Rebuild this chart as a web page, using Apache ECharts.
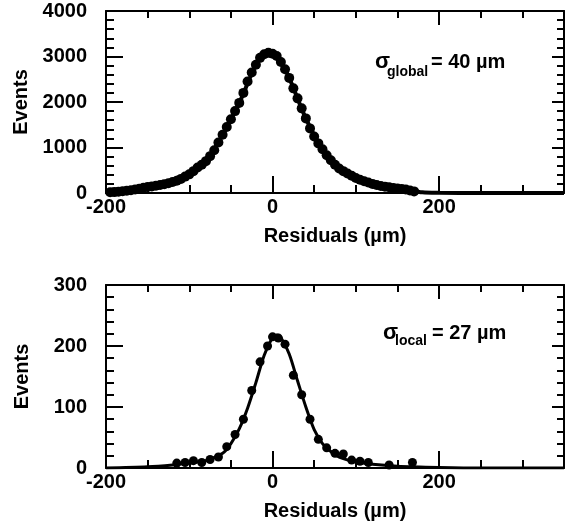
<!DOCTYPE html>
<html>
<head>
<meta charset="utf-8">
<script src="https://cdn.jsdelivr.net/npm/echarts@6/dist/echarts.min.js"></script>
<style>html,body{margin:0;padding:0;background:#fff;}#c{width:566px;height:527px;}</style>
</head>
<body>
<div id="c"></div>
<script>
// ---- Data ----
const xTickLabels = [-200, 0, 200];
// Top panel: global residuals (dots)
const globalX = [-195,-190,-185,-180,-175,-170,-165,-160,-155,-150,-145,-140,-135,-130,-125,-120,-115,-110,-105,-100,-95,-90,-85,-80,-75,-70,-65,-60,-55,-50,-45,-40,-35,-30,-25,-20,-15,-10,-5,0,5,10,15,20,25,30,35,40,45,50,55,60,65,70,75,80,85,90,95,100,105,110,115,120,125,130,135,140,145,150,155,160,165,170];
const globalY = [15,20,30,40,50,60,75,95,115,130,145,160,175,195,215,240,270,310,360,410,480,560,620,700,810,940,1110,1280,1450,1620,1800,1980,2200,2450,2650,2820,2970,3050,3080,3060,3010,2880,2720,2530,2300,2080,1860,1640,1420,1240,1090,960,830,720,620,540,480,430,380,330,290,260,230,200,175,155,140,125,110,100,90,75,55,35];
// Top panel: fit curve
const fitGlobalX = [-200,-180,-160,-140,-120,-100,-80,-60,-40,-20,-10,-5,0,10,20,40,60,80,100,120,140,160,180,200,250,300,350];
const fitGlobalY = [8,35,85,155,235,410,700,1280,1980,2820,3050,3080,3060,2880,2530,1640,960,540,330,200,125,75,15,5,2,0,0];
// Bottom panel: local residuals (dots)
const localX = [-115,-105,-95,-85,-75,-65,-55,-45,-35,-25,-15,-6,0,7,15,25,35,45,55,65,75,85,95,105,115,140,168];
const localY = [8,9,12,9,14,18,35,55,80,127,174,200,215,213,203,152,120,80,47,33,24,23,13,11,9,5,9];
// Bottom panel: fit curve
const fitLocalX = [-200,-150,-120,-100,-80,-60,-50,-40,-30,-20,-10,0,5,10,20,30,40,50,60,70,80,100,120,150,200,250,300,350];
const fitLocalY = [0,2,5,8,12,24,40,64,98,140,185,214,218,214,187,143,100,63,40,27,18,10,6,3,1,0,0,0];

const xRange = [-200, 350];
const yRangeTop = [0, 4000];
const yRangeBottom = [0, 300];

const FONT = '"Liberation Sans", Arial, Helvetica, sans-serif';
const zip = (a, b) => a.map((v, i) => [v, b[i]]);

function xAxes(g) {
  const base = {gridIndex: g, type: 'value', min: xRange[0], max: xRange[1], splitLine: {show: false}, minorTick: {show: false}};
  return [
    Object.assign({}, base, {
      position: 'bottom', interval: 200,
      axisLine: {show: true, onZero: false, lineStyle: {color: '#000', width: 2}},
      axisTick: {show: true, inside: true, length: 17, lineStyle: {color: '#000', width: 2}},
      axisLabel: {show: true, showMaxLabel: false, color: '#000', fontSize: 20, fontWeight: 'bold', fontFamily: FONT, margin: 4,
        formatter: v => xTickLabels.indexOf(v) >= 0 ? String(v) : ''},
      name: 'Residuals (µm)', nameLocation: 'middle', nameGap: 33,
      nameTextStyle: {color: '#000', fontSize: 20, fontWeight: 'bold', fontFamily: FONT}
    }),
    Object.assign({}, base, {
      position: 'bottom', interval: 50,
      axisLine: {show: false, onZero: false},
      axisTick: {show: true, inside: true, length: 8, lineStyle: {color: '#000', width: 2}},
      axisLabel: {show: false}
    }),
    Object.assign({}, base, {
      position: 'top', interval: 200,
      axisLine: {show: true, onZero: false, lineStyle: {color: '#000', width: 2}},
      axisTick: {show: true, inside: true, length: 14, lineStyle: {color: '#000', width: 2}},
      axisLabel: {show: false}
    }),
    Object.assign({}, base, {
      position: 'top', interval: 50,
      axisLine: {show: false, onZero: false},
      axisTick: {show: true, inside: true, length: 7, lineStyle: {color: '#000', width: 2}},
      axisLabel: {show: false}
    })
  ];
}

function yAxes(g, range, interval) {
  const base = {gridIndex: g, type: 'value', min: range[0], max: range[1], interval: interval, splitLine: {show: false}};
  return [
    Object.assign({}, base, {
      position: 'left',
      axisLine: {show: true, onZero: false, lineStyle: {color: '#000', width: 2}},
      axisTick: {show: true, inside: true, length: 17, lineStyle: {color: '#000', width: 2}},
      minorTick: {show: true, splitNumber: 5, length: 8, lineStyle: {color: '#000', width: 2}},
      axisLabel: {show: true, color: '#000', fontSize: 20, fontWeight: 'bold', fontFamily: FONT, margin: 19,
        formatter: v => String(v)},
      name: 'Events', nameLocation: 'middle', nameGap: 74,
      nameTextStyle: {color: '#000', fontSize: 20, fontWeight: 'bold', fontFamily: FONT}
    }),
    Object.assign({}, base, {
      position: 'right',
      axisLine: {show: true, onZero: false, lineStyle: {color: '#000', width: 2}},
      axisTick: {show: true, inside: true, length: 12, lineStyle: {color: '#000', width: 2}},
      minorTick: {show: true, splitNumber: 5, length: 7, lineStyle: {color: '#000', width: 2}},
      axisLabel: {show: false}
    })
  ];
}

function txt(x, y, text, size, weight) {
  return {type: 'text', x: x, y: y, silent: true,
    style: {text: text, fill: '#000', font: (weight || 'bold') + ' ' + size + 'px ' + FONT, textAlign: 'left', textVerticalAlign: 'middle'}};
}

const chart = echarts.init(document.getElementById('c'), null, {renderer: 'canvas'});
chart.setOption({
  backgroundColor: '#fff',
  animation: false,
  grid: [
    {left: 106, right: 2, top: 11, height: 182},
    {left: 106, right: 2, top: 285, height: 183}
  ],
  xAxis: xAxes(0).concat(xAxes(1)),
  yAxis: yAxes(0, yRangeTop, 1000).concat(yAxes(1, yRangeBottom, 100)),
  series: [
    {type: 'line', xAxisIndex: 0, yAxisIndex: 0, data: zip(fitGlobalX, fitGlobalY), smooth: 0.3, symbol: 'none',
      lineStyle: {color: '#000', width: 4}, clip: true},
    {type: 'scatter', xAxisIndex: 0, yAxisIndex: 0, data: zip(globalX, globalY), symbolSize: 10,
      itemStyle: {color: '#000', opacity: 1}},
    {type: 'line', xAxisIndex: 4, yAxisIndex: 2, data: zip(fitLocalX, fitLocalY), smooth: 0.3, symbol: 'none',
      lineStyle: {color: '#000', width: 3}, clip: true},
    {type: 'scatter', xAxisIndex: 4, yAxisIndex: 2, data: zip(localX, localY), symbolSize: 9,
      itemStyle: {color: '#000', opacity: 1}}
  ],
  graphic: [
    txt(375, 62, 'σ', 22),
    txt(387, 72, 'global', 14),
    txt(431, 62, '= 40 µm', 20),
    txt(383, 333, 'σ', 22),
    txt(395, 341, 'local', 14),
    txt(432, 333, '= 27 µm', 20)
  ]
});
</script>
</body>
</html>
